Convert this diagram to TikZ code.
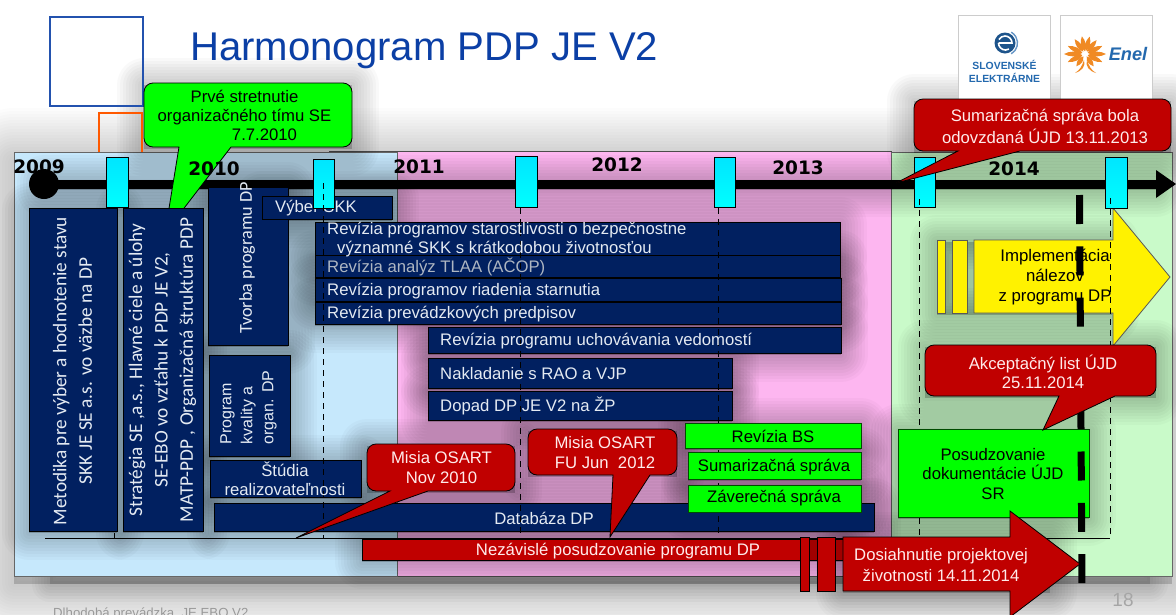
\documentclass[tikz,border=0pt]{standalone}
\usepackage{fontspec}
\setmainfont{Liberation Sans}
\newfontfamily\carl{Carlito}
\newfontfamily\yearfont{DejaVu Sans}
\usetikzlibrary{calc}
\definecolor{navy}{HTML}{012060}
\definecolor{boxtxt}{HTML}{E4EAF2}
\definecolor{dimtxt}{HTML}{AEB6C2}
\definecolor{callred}{HTML}{C00000}
\definecolor{darkred}{HTML}{A00000}
\definecolor{lime}{HTML}{00FF00}
\definecolor{cy}{HTML}{00FFFF}
\definecolor{panelblue}{HTML}{C6E8FC}
\definecolor{panelpink}{HTML}{FDB6F0}
\definecolor{panelgreen}{HTML}{C9FAC9}
\definecolor{titleblue}{HTML}{0B3FA5}
\definecolor{logoblue}{HTML}{2469AE}
\definecolor{enelorange}{HTML}{F08A24}
\pgfdeclarelayer{bg}
\pgfdeclarelayer{shadowlayer}
\pgfsetlayers{bg,shadowlayer,main}
\newcommand\fs[1]{\fontsize{#1}{#1}\selectfont}
\newcommand\softsh[4]{%
  \begin{pgfonlayer}{shadowlayer}
  \foreach \w in {6,12,...,54}{
    \draw[softlayer,line width=\w pt] (#1,#2+2) rectangle (#3,#4+2);}
  \end{pgfonlayer}}
% \bx{name}{x1}{y1}{x2}{y2}{style}{text}
\newcommand\bx[7]{%
  \softsh{#2}{#3}{#4}{#5}%
  \pgfmathsetmacro\bw{#4-#2}\pgfmathsetmacro\bh{#5-#3}%
  \node[#6,anchor=north west,minimum width=\bw pt,minimum height=\bh pt,inner sep=0pt,outer sep=0pt] (#1) at (#2,#3) {#7};}
% \callshape{fill}{x1}{y1}{x2}{y2}{base1 x}{base2 x}{tip x}{tip y}
\newcommand\callshape[9]{%
  \softsh{#2}{#3}{#4}{#5}%
  \draw[fill=#1,draw=black,line width=.8pt,line join=miter]
    (#2+9,#3) -- (#4-9,#3) arc (90:0:9pt) -- (#4,#5-9) arc (0:-90:9pt)
    -- (#7,#5) -- (#8,#9) -- (#6,#5) -- (#2+9,#5) arc (-90:-180:9pt) -- (#2,#3+9) arc (180:90:9pt) -- cycle;}
\tikzset{
  softlayer/.style={draw=black,fill=black,opacity=.024,line join=round},
  navybox/.style={draw=black,line width=.8pt,fill=navy,text=boxtxt,font=\fs{16.7}},
  limebox/.style={draw=black!70!green,line width=.8pt,fill=lime,text=black,font=\fs{16.7}},
  limetxt/.style={font=\fs{16.7},text=black,inner sep=0pt},
  redtxt/.style={text=white!92!red,font=\fs{16.7},align=center,inner sep=0pt},
  rottxt/.style={rotate=90,text=boxtxt,font=\carl\fs{19.3},align=center,inner sep=0pt},
  navytxt/.style={text=boxtxt,font=\fs{16.7},anchor=west,inner sep=0pt},
  cybar/.style={draw=black,line width=1pt,top color=cy!90!blue,bottom color=cy},
  yeartxt/.style={font=\yearfont\bfseries\fs{18.5},inner sep=0pt,text=black},
  thindash/.style={draw=black,line width=1pt,dash pattern=on 6pt off 5pt},
  thickdash/.style={draw=black,line width=7pt,dash pattern=on 29pt off 22.3pt},
  redpart/.style={draw=black,line width=.8pt,fill=callred},
  yellowpart/.style={draw=black!65,line width=.8pt,fill=yellow},
}
\begin{document}
\begin{tikzpicture}[x=1pt,y=-1pt]
\useasboundingbox (0,0) rectangle (1176,614);
\clip (0,0) rectangle (1176,614);
% outer shadow of panels
\begin{pgfonlayer}{bg}
\foreach \w in {6,12,...,108}{
  \draw[draw=black,fill=black,opacity=.012,line width=\w pt,line join=round] (14,162) rectangle (1172,584);}
\foreach \w in {6,12,...,36}{
  \draw[draw=black,fill=black,opacity=.025,line width=\w pt,line join=round] (50,200) rectangle (1150,584);}
\fill[panelpink] (329,151) rectangle (891,576);
\draw[black!70,line width=1pt] (329,151) rectangle (891,576);
\fill[panelblue] (14,152) rectangle (397,576);
\draw[black!60,line width=1pt] (14,152) rectangle (397,576);
\fill[panelgreen] (891,152) rectangle (1172,576);
\draw[black!60,line width=1pt] (891,152) rectangle (1172,576);
\end{pgfonlayer}
% header squares
\node[draw=titleblue!90!white,line width=2pt,minimum width=93pt,minimum height=89pt,inner sep=0pt,anchor=north west] (bluesq) at (49,16) {};
\draw[draw=orange!70!red,line width=1.6pt] (99,152) -- (99,113) -- (142,113) -- (142,152);
\node[anchor=base west,text=titleblue,font=\fs{40.1},inner sep=0pt] (title) at (190,60) {Harmonogram PDP JE V2};
% logos
\fill[white] (958,15) rectangle (1050,100) (1060,15) rectangle (1152,100);
\draw[black!20,line width=1pt] (958,100) -- (958,15) -- (1050,15) -- (1050,100);
\draw[black!20,line width=1pt] (1060,100) -- (1060,15) -- (1152,15) -- (1152,100);
\fill[logoblue!80!black] (1005,43) circle (10.5pt);
\draw[logoblue!70!white,line width=1.4pt] (1005,43) ++(-60:12.5pt) arc (-60:60:12.5pt);
\draw[white,line width=1.6pt] (998.5,43) -- (1012,43) arc (0:150:7pt);
\draw[white,line width=1.6pt] (998.5,43) arc (180:300:7pt);
\node[text=logoblue,font=\bfseries\fs{10.4},inner sep=0pt] (selogoa) at (1004.5,65) {SLOVENSKÉ};
\node[text=logoblue,font=\bfseries\fs{10.4},inner sep=0pt] (selogob) at (1004.5,78) {ELEKTRÁRNE};
\foreach \a/\l in {0/21,25/19,50/18,75/18,100/18,125/18,155/19,180/21,205/19,235/15,-25/19,-55/15}{
  \fill[enelorange,rotate around={\a:(1085,54)}] (1088,54) .. controls (1092,50.5) and (1085+\l-5,51) .. (1085+\l,54) .. controls (1085+\l-5,57) and (1092,57.5) .. (1088,54) -- cycle;}
\fill[enelorange] (1084,60) .. controls (1082,66) and (1080,70) .. (1075,73) .. controls (1082,71) and (1086,66) .. (1084,60) -- cycle;
\fill[enelorange] (1087,60) .. controls (1089,66) and (1091,70) .. (1096,73) .. controls (1089,71) and (1085,66) .. (1087,60) -- cycle;
\node[text=logoblue,font=\bfseries\itshape\fs{18.2},inner sep=0pt] (enellogo) at (1128,54) {Enel};
% baseline and dashes below
\draw[draw=black,line width=1pt] (45,538) coordinate (basel) -- (1110,538) coordinate (baser);
\draw[draw=black,line width=1pt] (114,533) -- (114,538);
\softsh{44}{180}{1156}{188}
\draw[draw=black,line width=9pt] (44,184) coordinate (tla) -- (1157,184) coordinate (tlb);
\fill[black] (1156,170) -- (1176,184) -- (1156,198) -- cycle;
\node[circle,fill=black,minimum size=30pt,inner sep=0pt] (start) at (44,184) {};
% green callout (sits under box 2)
\callshape{lime}{144}{83}{352}{147}{179}{231}{165}{233}
\node[font=\fs{16.7},align=center,inner sep=0pt] (prve) at (244.5,115.5) {Prvé stretnutie\\[2.5pt]organizačného tímu SE\\[2.5pt]\hspace*{40pt}7.7.2010};
% years
\node[yeartxt] (y09) at (39,167) {2009};
\node[yeartxt] (y10) at (214,169) {2010};
\node[yeartxt] (y11) at (419,167) {2011};
\node[yeartxt] (y12) at (617,165) {2012};
\node[yeartxt] (y13) at (798,168) {2013};
\node[yeartxt] (y14) at (1014,169) {2014};
% navy boxes
\bx{metodika}{29}{208}{117}{531}{navybox}{}
\bx{strategia}{123}{208}{203}{531}{navybox}{}
\bx{tvorba}{208}{187}{288}{345}{navybox}{}
\bx{kvalita}{209}{355}{290}{456}{navybox}{}
\bx{studia}{210}{460}{361}{497}{navybox}{}
\bx{databaza}{214}{503}{874}{531}{navybox}{}
\bx{vyber}{262}{196}{392}{219}{navybox}{}
\node[navytxt] (vybert) at (275,208) {Výber SKK};
\bx{rev1}{315}{222}{840}{255}{navybox}{}
\bx{rev2}{315}{255}{840}{277}{navybox}{}
\bx{rev3}{315}{278}{841}{301}{navybox}{}
\bx{rev4}{315}{302}{841}{324}{navybox}{}
\bx{rev5}{428}{327}{841}{353}{navybox}{}
\bx{rao}{428}{358}{732}{388}{navybox}{}
\bx{dopad}{428}{391}{732}{420}{navybox}{}
% yellow implementation
\softsh{937}{240}{1112}{313}
\node[yellowpart,anchor=north west,minimum width=8pt,minimum height=73pt,inner sep=0pt] (yel1) at (937,240) {};
\node[yellowpart,anchor=north west,minimum width=15pt,minimum height=73pt,inner sep=0pt] (yel2) at (952,240) {};
\draw[yellowpart] (974,240) -- (1113,240) -- (1113,208) -- (1170,277) -- (1113,346) -- (1113,313) -- (974,313) -- cycle;
\node[font=\fs{16.8},align=center,inner sep=0pt] (impl) at (1055,277) {Implementácia\\[3pt]nálezov\\[3pt]z programu DP};
% cyan bars
\foreach \n/\xa/\xb/\ya/\yb in {a/106/128/157/207,b/313/334/159/208,c/515/537/156/207,d/714/735/157/207,e/914/935/157/207,f/1105/1127/157/208}{
  \node[cybar,anchor=north west,minimum width=\xb pt-\xa pt,minimum height=\yb pt-\ya pt,inner sep=0pt] (bar\n) at (\xa,\ya) {};}
% thin dashed year lines
\draw[thindash] (323,183) -- (323,538);
\draw[thindash] (520,208) -- (520,538);
\draw[thindash] (718,208) -- (718,538);
\draw[thindash] (919,199) -- (919,538);
\draw[thindash] (1110,198) -- (1110,538);
% texts of the navy boxes lie over the dashes
\node[rottxt] (metodikat) at (72.5,371) {Metodika pre výber a hodnotenie stavu\\[6pt]SKK JE SE a.s. vo väzbe na DP};
\node[rottxt] (strategiat) at (162.5,370) {Stratégia SE ,a.s., Hlavné ciele a úlohy\\[6pt]SE-EBO vo vzťahu k PDP JE V2,\\[6pt]MATP-PDP , Organizačná štruktúra PDP};
\node[rottxt,font=\carl\fs{18.2}] (tvorbat) at (247,258) {Tvorba programu DP};
\node[rotate=90,text=boxtxt,font=\fs{16},align=left,inner sep=0pt] (kvalitat) at (248.5,407.5) {Program\\[5pt]kvality a\\[5pt]organ. DP};
\node[text=boxtxt,font=\fs{16.7},align=center,inner sep=0pt] (studiat) at (285,479) {Štúdia\\[2.5pt]realizovateľnosti};
\node[text=boxtxt,font=\fs{16.7},inner sep=0pt] (databazat) at (544,518.5) {Databáza DP};
\node[navytxt,anchor=base west] (rev1a) at (327,234) {Revízia programov starostlivosti o bezpečnostne};
\node[navytxt,anchor=base west] (rev1b) at (337,253) {významné SKK s krátkodobou životnosťou};
\node[navytxt,text=dimtxt] (rev2t) at (327,267) {Revízia analýz TLAA (AČOP)};
\node[navytxt] (rev3t) at (327,291) {Revízia programov riadenia starnutia};
\node[navytxt] (rev4t) at (327,314.5) {Revízia prevádzkových predpisov};
\node[navytxt] (rev5t) at (440,341.5) {Revízia programu uchovávania vedomostí};
\node[navytxt] (raot) at (440,374) {Nakladanie s RAO a VJP};
\node[navytxt] (dopadt) at (440,406) {Dopad DP JE V2 na ŽP};
% lime boxes
\bx{bs}{685}{423}{861}{448}{limebox}{}
\node[limetxt] (bst) at (773,436) {Revízia BS};
\bx{sumar}{688}{452}{861}{479}{limebox}{}
\node[limetxt] (sumart) at (774,467) {Sumarizačná správa};
\bx{zaver}{688}{485}{861}{512}{limebox}{}
\node[limetxt] (zavert) at (774,498.5) {Záverečná správa};
\bx{posud}{898}{429}{1089}{517}{limebox}{}
\node[font=\fs{16.7},align=center,inner sep=0pt] (posudt) at (993,474) {Posudzovanie\\[3pt]dokumentácie ÚJD\\[3pt]SR};
% thick dashed line
\draw[thickdash] (1079.5,195) -- (1082,585);
% independent review bar
\softsh{362}{539}{843}{560}
\node[redpart,anchor=north west,minimum width=481pt,minimum height=21pt,inner sep=0pt] (nez) at (362,539) {};
\node[redtxt] (nezt) at (618,551) {Nezávislé posudzovanie programu DP};
\node[anchor=north west,fill=darkred,draw=black,line width=.5pt,minimum width=34pt,minimum height=21pt,inner sep=0pt] (nezd) at (809,539) {};
\node[redpart,anchor=north west,minimum width=9pt,minimum height=54pt,inner sep=0pt] (nezb1) at (800,537) {};
\node[redpart,anchor=north west,minimum width=18pt,minimum height=54pt,inner sep=0pt] (nezb2) at (817,537) {};
\softsh{843}{537}{1050}{591}
\draw[redpart] (843,537) -- (1010,537) -- (1010,511) -- (1080,564) -- (1010,617) -- (1010,591) -- (843,591) -- cycle;
\node[redtxt] (dosi) at (941,565) {Dosiahnutie projektovej\\[3.5pt]životnosti 14.11.2014};
% red callouts
\callshape{callred}{367}{444}{515}{491}{390}{428}{296}{538}
\node[redtxt] (osart1) at (441.5,467.5) {Misia OSART\\[3pt]Nov 2010};
\callshape{callred}{528}{429}{677}{475}{613}{650}{610}{537}
\node[redtxt] (osart2) at (605,452.5) {Misia OSART\\[3pt]FU Jun\ \ 2012};
\callshape{callred}{914}{99}{1171}{151}{958}{1020}{896}{183}
\node[redtxt] (sumcall) at (1045,126) {Sumarizačná správa bola\\[3pt]odovzdaná ÚJD 13.11.2013};
\callshape{callred}{925}{345}{1156}{396}{1059}{1115}{1043}{430}
\node[redtxt] (akcept) at (1043,371.5) {Akceptačný list ÚJD\\[2.5pt]25.11.2014};
% footer
\node[anchor=base west,text=black!40,font=\fs{13.2},inner sep=0pt] (foot) at (53,617) {Dlhodobá prevádzka\ \ JE EBO V2};
\node[text=black!35,font=\fs{19},inner sep=0pt] (pageno) at (1123,600) {18};
\end{tikzpicture}
\end{document}
